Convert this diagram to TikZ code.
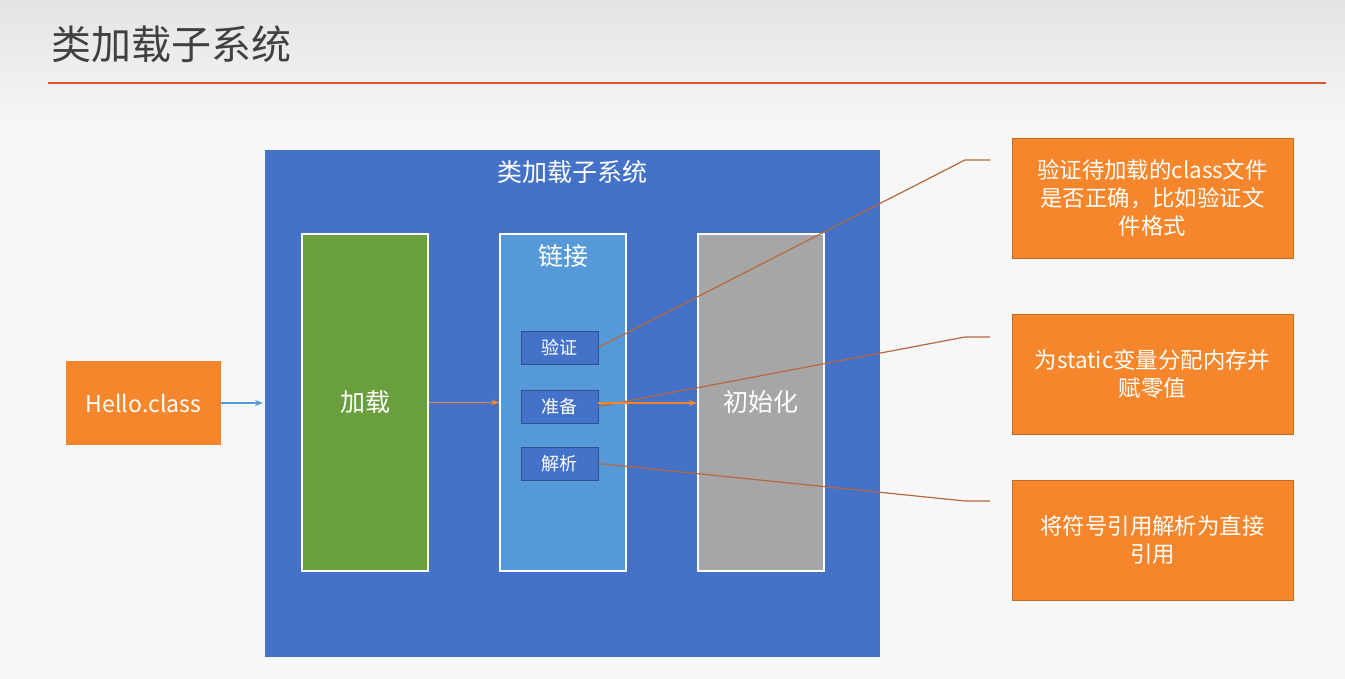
\documentclass[tikz,border=0pt]{standalone}
\usepackage{fontspec}
\setmainfont{Noto Sans CJK SC}
\usetikzlibrary{positioning, arrows.meta}
\definecolor{bgtop}{HTML}{E4E4E4}
\definecolor{bgbot}{HTML}{F7F7F7}
\definecolor{rule}{HTML}{D9542A}
\definecolor{sysblue}{HTML}{4472C8}
\definecolor{loadgreen}{HTML}{6A9F40}
\definecolor{linkblue}{HTML}{5599D8}
\definecolor{initgray}{HTML}{A6A6A6}
\definecolor{notebox}{HTML}{F5862B}
\definecolor{leader}{HTML}{B8683A}

\begin{document}
\begin{tikzpicture}[x=0.5pt, y=-0.5pt,
    stage/.style = { draw=white, line width=1pt, minimum width=63pt, minimum height=168.5pt, text=white, font=\fontsize{12.5}{14}\selectfont },
    substep/.style = { draw=sysblue!70!black, fill=sysblue, minimum width=38.5pt, minimum height=16.5pt, text=white, font=\fontsize{9}{11}\selectfont, inner sep=0pt },
    note/.style = { draw=notebox!80!black, fill=notebox, minimum width=140.5pt, minimum height=60pt, text=white, align=center, font=\fontsize{11.2}{14}\selectfont },
    leadline/.style = { leader, line width=0.6pt },
    flow/.style = { -{Stealth[length=4pt]}, line width=0.6pt }
]
    % background and title
    \shade[top color=bgtop, bottom color=bgbot] (0,0) rectangle (1345,130);
    \fill[bgbot] (0,130) rectangle (1345,679);
    \node[anchor=west, text=black!75, font=\fontsize{20}{22}\selectfont] (title) at (44,44) {类加载子系统};
    \draw[rule, line width=1.2pt] (48,83) -- (1326,83);

    % subsystem frame
    \fill[sysblue] (265,150) rectangle (880,657);
    \node[text=white, font=\fontsize{12.5}{14}\selectfont] (systitle) at (572,172) {类加载子系统};

    \node[stage, fill=loadgreen] (load) at (365,402.5) {加载};
    \node[stage, fill=linkblue] (link) at (563,402.5) {};
    \node[text=white, font=\fontsize{12.5}{14}\selectfont] (linktitle) at (563,256) {链接};
    \node[stage, fill=initgray] (init) at (761,402.5) {初始化};

    \node[substep] (verify) at (559.5,347.5) {验证};
    \node[substep] (prepare) at (559.5,406.5) {准备};
    \node[substep] (resolve) at (559.5,463.5) {解析};

    \node[fill=notebox, minimum width=77.5pt, minimum height=42pt, text=white, font=\fontsize{11.5}{14}\selectfont] (hello) at (143.5,403) {Hello.class};

    % notes
    \node[note] (n1) at (1152.5,198) {验证待加载的class文件\\是否正确，比如验证文\\件格式};
    \node[note] (n2) at (1152.5,374) {为static变量分配内存并\\赋零值};
    \node[note] (n3) at (1152.5,540) {将符号引用解析为直接\\引用};

    \coordinate (k1) at (965,160);
    \coordinate (k2) at (965,337);
    \coordinate (k3) at (965,501);
    \draw[leadline] (verify.east) -- (k1) -- (990,160);
    \draw[leadline] (prepare.east) -- (k2) -- (990,337);
    \draw[leadline] (resolve.east) -- (k3) -- (990,501);

    % flow
    \draw[flow, linkblue] (hello.east) -- (263,403);
    \draw[flow, notebox] (load.east) -- (link.west |- load.east);
    \draw[flow, notebox] (prepare.east |- 0,403) -- (init.west |- 0,403);
\end{tikzpicture}
\end{document}
